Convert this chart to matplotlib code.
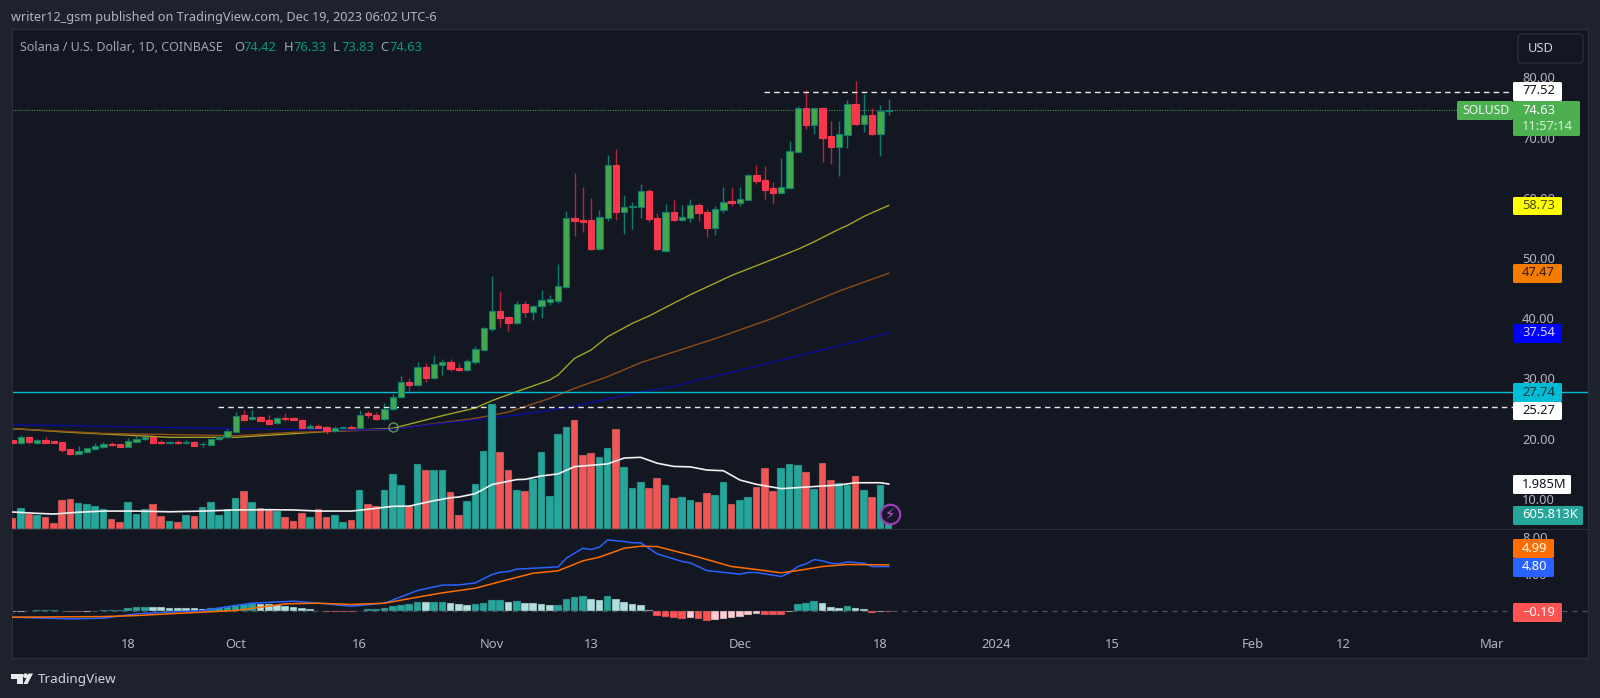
import numpy as np
import matplotlib
matplotlib.use("Agg")
import matplotlib.pyplot as plt
from matplotlib.patches import FancyBboxPatch, Polygon, Circle

plt.rcParams['font.family'] = ['Noto Sans', 'DejaVu Sans']

# days counted from Oct 1 2023, first bar is Sep 4
days = np.arange(-27, 80)

opens = [19.76,19.32,20.26,19.32,19.82,19.54,19.37,18.21,17.49,17.77,18.21,18.60,19.15,19.10,18.66,19.49,19.87,20.21,19.49,19.21,19.43,19.26,19.37,19.04,18.99,19.87,20.21,
         21.15,23.92,23.20,23.58,23.03,22.53,23.47,23.42,23.14,21.81,22.09,21.98,21.26,21.76,21.98,21.70,24.19,23.92,23.20,24.86,
         26.85,29.40,28.90,31.84,30.07,32.23,32.72,31.73,31.45,32.67,34.72,38.26,41.14,40.14,39.26,42.36,41.03,42.08,42.75,42.91,45.13,
         56.70,56.31,56.31,51.44,56.70,65.50,57.58,58.42,58.53,61.07,56.59,51.16,57.59,56.37,56.70,58.75,57.59,54.93,58.03,59.41,59.19,59.69,
         63.73,63.01,61.57,60.80,61.63,67.67,74.92,72.09,74.92,70.21,68.38,70.49,75.58,72.32,73.70,70.65,74.42]
highs = [19.87,20.54,20.43,19.93,20.21,19.60,19.40,18.32,18.77,18.49,19.26,19.49,19.43,19.13,20.04,20.43,20.59,20.43,19.82,19.54,19.71,19.71,19.54,19.43,19.93,20.48,21.70,
         24.47,24.75,24.75,23.75,23.86,23.64,24.19,23.58,23.25,22.42,22.37,22.03,22.14,22.14,22.20,24.75,24.58,24.36,25.85,27.35,
         30.40,30.07,32.67,32.50,33.89,33.28,33.28,32.50,33.22,35.38,38.48,47.01,44.57,40.20,42.80,42.80,42.12,44.68,43.85,49.00,57.81,
         64.06,61.85,59.91,58.03,67.11,68.10,60.46,59.36,62.29,61.41,57.42,58.92,59.64,58.80,59.80,59.08,58.09,58.64,61.85,61.74,61.85,63.90,
         65.50,65.23,62.63,66.67,69.44,75.30,77.91,74.90,75.03,72.81,72.76,76.25,79.40,77.24,74.92,75.42,76.33]
lows = [19.10,19.04,19.10,19.15,19.21,19.21,17.77,17.33,17.44,17.66,18.10,18.43,18.77,18.64,18.55,19.43,19.82,19.15,19.10,19.15,19.10,19.10,18.77,18.66,18.96,19.82,20.10,
        21.09,22.92,23.14,22.87,22.42,22.48,22.97,23.09,21.54,21.65,21.54,20.82,21.15,21.65,21.54,21.65,23.47,23.14,23.09,24.75,
        26.69,27.96,28.74,29.46,29.90,30.56,31.23,31.28,31.28,32.39,34.66,37.93,38.59,37.93,38.98,40.25,39.70,40.03,42.19,42.47,44.96,
        53.65,54.37,51.40,51.27,56.09,56.31,54.04,54.76,56.64,55.98,51.33,51.05,56.20,56.09,55.98,56.09,53.55,53.88,57.53,58.69,58.64,59.64,
        62.24,59.80,58.97,60.76,61.46,67.65,71.43,70.60,65.89,65.67,63.62,68.22,72.04,70.99,70.43,66.94,73.83]
closes = [19.32,20.21,19.43,19.82,19.32,19.26,18.05,17.44,17.88,18.38,18.77,19.04,18.99,18.66,19.60,19.99,20.26,19.21,19.21,19.43,19.21,19.43,18.82,19.15,19.87,20.21,21.26,
          23.75,23.14,23.58,22.92,22.48,23.42,23.20,23.14,21.81,22.14,21.70,21.20,21.81,21.98,21.76,23.86,23.86,23.20,24.86,26.96,
          29.35,28.85,31.84,30.07,32.39,32.72,31.51,31.45,32.83,34.83,38.37,41.14,40.03,39.26,42.36,41.03,42.08,42.97,43.13,45.29,56.70,
          56.09,56.03,51.44,56.81,65.50,57.58,58.42,58.64,61.07,56.42,51.44,57.59,56.37,56.87,58.75,57.42,54.93,58.14,59.30,59.19,59.75,63.73,
          62.79,61.35,60.80,61.79,67.72,74.86,72.09,74.86,69.99,68.38,70.60,75.58,72.32,73.70,70.60,74.42,74.63]

# volume in millions
volumes = [0.47,0.91,0.66,0.60,0.51,0.25,1.26,1.31,1.15,1.10,1.03,0.87,0.44,0.29,1.19,0.68,0.88,1.10,0.57,0.34,0.29,0.62,0.57,0.99,1.19,0.62,0.88,
           1.37,1.69,1.19,0.93,0.87,0.81,0.53,0.34,0.71,0.53,0.87,0.53,0.62,0.29,0.40,1.72,1.10,1.03,1.72,2.43,1.93,1.03,2.87,2.59,2.59,2.59,1.62,0.60,1.22,2.00,
           3.44,5.51,3.40,2.59,1.72,1.68,2.22,3.40,1.46,4.18,4.49,4.81,3.25,3.35,3.18,3.56,4.40,2.74,1.81,2.07,1.81,2.25,1.93,1.35,1.41,1.26,1.19,1.57,1.50,2.07,
           1.10,1.28,1.41,1.85,2.69,1.68,2.69,2.87,2.82,2.50,1.76,2.90,2.16,2.03,1.94,2.34,1.72,1.41,1.96,0.606]
vol_ma_days = [-27,-24,-22,-19,-16,-12,-8,-4,0,4,7,10,14,16,19,21,24,26,27,29,31,34,35,37,39,41,45,47,49,51,53,55,57,59,61,63,66,69,73,75,78,79]
vol_ma = [0.75,0.69,0.66,0.74,0.79,0.79,0.76,0.79,0.84,0.85,0.84,0.79,0.79,0.87,1.00,1.01,1.25,1.38,1.41,1.56,1.96,2.18,2.19,2.34,2.43,2.75,2.87,3.13,3.16,2.90,2.76,2.74,2.60,2.57,2.16,1.97,1.78,1.85,1.94,2.04,2.04,1.985]

# moving averages on price
ma_olive_days = [-27,-20,-8,0,12,19,25,29,31,34,38,39,41,43,45,48,50,51,55,60,65,68,70,73,74,76,77,79]
ma_olive = [21.65,21.04,20.21,20.21,21.26,21.70,23.80,25.08,26.30,27.80,29.73,30.56,33.33,34.72,36.93,39.15,40.36,41.08,43.90,47.10,49.80,51.44,52.71,54.80,55.40,56.90,57.53,58.73]
ma_brown_days = [-27,-16,0,7,12,19,25,29,33,38,41,45,49,51,58,65,73,79]
ma_brown = [21.65,20.87,20.48,21.04,21.20,21.54,22.64,23.36,24.41,26.68,28.35,30.29,32.61,33.50,36.60,40.00,44.50,47.47]
ma_navy_days = [-27,-16,0,14,19,25,29,33,37,41,45,49,53,56,60,65,70,75,79]
ma_navy = [22.31,22.03,21.65,21.42,21.54,22.53,23.09,23.75,24.47,25.41,26.57,27.74,28.62,29.73,31.00,32.70,34.40,36.10,37.54]

# macd panel
macd_days = [-27,-20,-16,-12,-8,-4,0,2,7,10,14,18,22,25,27,29,31,32,33,34,39,40,42,43,44,45,47,48,49,51,54,55,57,61,62,63,66,67,68,69,70,71,72,73,74,76,77,79]
macd = [-0.73,-0.91,-0.84,-0.36,-0.18,0.00,0.55,0.80,1.02,0.80,0.47,0.80,2.19,2.77,2.80,3.02,3.93,4.19,4.26,4.52,4.77,5.72,6.81,6.67,6.92,7.72,7.54,7.40,7.40,6.19,5.36,5.21,4.37,3.97,4.15,4.15,3.72,4.12,4.81,5.10,5.57,5.43,5.17,5.10,5.32,5.17,4.81,4.80]
signal_days = [-27,-16,-12,-8,-4,0,3,6,10,14,18,22,25,29,33,36,39,42,44,47,49,51,56,60,63,66,68,71,74,79]
signal = [-0.73,-0.66,-0.55,-0.36,-0.18,0.00,0.36,0.73,0.80,0.66,0.80,1.46,1.93,2.44,3.39,4.08,4.34,5.43,5.83,6.81,7.03,6.99,5.83,4.81,4.48,4.12,4.37,4.81,5.03,4.99]
hist = [-0.15,-0.12,-0.10,0.06,0.07,0.08,-0.10,-0.15,-0.17,-0.12,-0.08,0.03,0.06,0.08,0.29,0.40,0.41,0.38,0.37,0.29,0.28,0.27,0.26,0.15,0.29,0.30,0.40,
        0.62,0.72,0.80,0.74,0.66,0.64,0.47,0.36,0.25,0.15,-0.05,-0.18,-0.19,-0.20,-0.21,-0.08,0.13,0.14,0.29,0.47,0.65,0.73,0.91,0.90,0.92,0.93,0.87,0.69,0.63,0.66,
        0.84,1.13,1.14,0.91,1.02,0.87,0.77,0.69,0.58,0.60,1.24,1.53,1.64,1.24,1.13,1.64,1.24,0.91,0.69,0.55,0.11,-0.62,-0.76,-0.77,-0.95,-0.84,-0.95,-1.13,
        -1.06,-0.95,-0.87,-0.73,-0.51,-0.40,-0.44,-0.47,-0.48,-0.15,0.69,0.87,1.06,0.80,0.40,0.29,0.47,0.29,0.18,-0.26,-0.15,-0.19]

tick_days = [-13,0,15,31,43,61,78,92,106,123,134,152]
tick_labels = ["18","Oct","16","Nov","13","Dec","18","2024","15","Feb","12","Mar"]
price_ticks = [80,70,60,50,40,30,20,10]
macd_ticks = [8,4,0]

BG = "#131722"
OUTER = "#1e222d"
BORDER = "#2a2e39"
TEXT = "#b2b5be"
GREEN = "#43a84d"
GREEN_EDGE = "#0b7f6c"
RED = "#f7374c"
RED_WICK = "#b9263a"
TEAL = "#26a69a"
VRED = "#f25555"

W, H = 1600, 698
fig = plt.figure(figsize=(W/100, H/100), dpi=100, facecolor=OUTER)

def rect(left, top, right, bottom):
    return [left/W, 1-bottom/H, (right-left)/W, (bottom-top)/H]

xlim = (-27.06, 163.6)

# price panel
ax = fig.add_axes(rect(12, 29, 1588, 529), facecolor=BG)
ax.set_xlim(xlim)
ax.set_ylim(4.98, 88.04)

opens = np.array(opens); closes = np.array(closes)
up = closes >= opens
ax.vlines(days[up], np.array(lows)[up], np.array(highs)[up], color=GREEN_EDGE, lw=1.0, zorder=2)
ax.vlines(days[~up], np.array(lows)[~up], np.array(highs)[~up], color=RED_WICK, lw=1.0, zorder=2)
ax.bar(days[up], (closes-opens)[up], bottom=opens[up], width=0.76, color=GREEN, edgecolor=GREEN_EDGE, lw=0.8, zorder=3)
ax.bar(days[~up], (opens-closes)[~up], bottom=closes[~up], width=0.76, color=RED, edgecolor=RED, lw=0.8, zorder=3)

ax.plot(ma_olive_days, ma_olive, color="#a3a322", lw=1.0, zorder=2)
ax.plot(ma_brown_days, ma_brown, color="#8f4d16", lw=1.0, zorder=2)
ax.plot(ma_navy_days, ma_navy, color="#0c0c9c", lw=1.0, zorder=2)

ax.axhline(27.74, color="#00bcd4", lw=1.0, zorder=2)
ax.hlines(74.63, xlim[0], 155, color="#4caf50", lw=0.7, linestyles=(0, (1, 1.5)), zorder=1)
ax.hlines(77.52, 63.9, 155, color="#e8e8e8", lw=1.0, linestyles=(0, (4, 3)), zorder=2)
ax.hlines(25.27, -2.1, 155, color="#e8e8e8", lw=1.0, linestyles=(0, (4, 3)), zorder=2)
ax.plot([19], [21.93], marker="o", ms=6.5, mfc="none", mec="#4f9a58", mew=1.0, zorder=4)

ax.yaxis.tick_right()
ax.set_yticks(price_ticks)
ax.set_yticklabels([f"{p:.2f}" for p in price_ticks])
ax.tick_params(axis="y", length=0, pad=-47.5, labelsize=9.3, labelcolor=TEXT)
ax.set_xticks([])
for s in ax.spines.values():
    s.set_color(BORDER)

# volume on top of the price panel
vax = fig.add_axes(rect(12, 29, 1588, 529), sharex=ax)
vax.patch.set_visible(False)
vax.axis("off")
vax.set_xlim(xlim)
vax.set_ylim(0, 22.05)
vol_colors = [TEAL if u else VRED for u in up]
vax.bar(days, volumes, width=0.92, color=vol_colors, edgecolor="#14423f", lw=0.3)
vax.plot(vol_ma_days, vol_ma, color="#f0f0f0", lw=1.2)
vax.plot([79.1], [0.66], marker="o", ms=14, mfc="#1b1530", mec="#9c3fb5", mew=1.6)
vax.text(79.1, 0.66, "\u26a1", color="#b565cc", fontsize=10.5, ha="center", va="center", family="DejaVu Sans")

# macd panel
max_ = fig.add_axes(rect(12, 529, 1588, 658), facecolor=BG)
max_.set_xlim(xlim)
max_.set_ylim(-5.19, 8.91)
max_.axhline(0, color="#50535e", lw=0.9, ls=(0, (4, 4)), zorder=1)
hist = np.array(hist)
prev = np.r_[hist[0]-0.03, hist[:-1]]
hist_colors = []
for h, p in zip(hist, prev):
    if h >= 0:
        hist_colors.append(TEAL if h > p else "#b2dfdb")
    else:
        hist_colors.append("#ffcdd2" if h > p else "#ff5252")
max_.bar(days, hist, width=0.92, color=hist_colors, edgecolor="#2b3a44", lw=0.3, zorder=2)
max_.plot(macd_days, macd, color="#2962ff", lw=1.1, zorder=3)
max_.plot(signal_days, signal, color="#ff6d00", lw=1.1, zorder=3)

max_.yaxis.tick_right()
max_.set_yticks(macd_ticks)
max_.set_yticklabels([f"{m:.2f}" for m in macd_ticks])
max_.tick_params(axis="y", length=0, pad=-47.5, labelsize=9.3, labelcolor=TEXT)
max_.set_xticks(tick_days)
max_.set_xticklabels(tick_labels)
max_.tick_params(axis="x", length=0, pad=-14.5, labelsize=9.3, labelcolor=TEXT)
max_.get_xticklabels()[7].set_fontweight("bold")
for s in max_.spines.values():
    s.set_color(BORDER)

# overlay in pixel coords for the labels around the chart
ui = fig.add_axes([0, 0, 1, 1])
ui.patch.set_visible(False)
ui.axis("off")
ui.set_xlim(0, W)
ui.set_ylim(H, 0)

def badge(x0, x1, y0, y1, color, label, tcolor, tx=1522):
    ui.add_patch(FancyBboxPatch((x0+1, y0+1), x1-x0-2, y1-y0-2, boxstyle="round,pad=1,rounding_size=1.5",
                                fc=color, ec="none"))
    ui.text(tx, (y0+y1)/2-0.5, label, color=tcolor, fontsize=9.3, va="center", ha="left")

badge(1513, 1562, 82, 101, "#ffffff", "77.52", "#131722")
ui.add_patch(FancyBboxPatch((1458, 102), 54, 17, boxstyle="round,pad=1,rounding_size=1.5", fc="#4caf50", ec="none"))
ui.text(1462, 110.5, "SOLUSD", color="#f5f5f5", fontsize=8.8, va="center", ha="left")
ui.add_patch(FancyBboxPatch((1514, 102), 65, 33, boxstyle="round,pad=1,rounding_size=1.5", fc="#4caf50", ec="none"))
ui.text(1522, 110.5, "74.63", color="#ffffff", fontsize=9.3, va="center", ha="left")
ui.text(1522, 126.5, "11:57:14", color="#d7efd8", fontsize=9.3, va="center", ha="left")
badge(1513, 1562, 197, 215, "#ffff00", "58.73", "#4b4b1c")
badge(1513, 1562, 264, 283, "#f57c00", "47.47", "#2a1a08")
badge(1513, 1562, 324, 343, "#0000ff", "37.54", "#d6d6ff")
badge(1513, 1562, 383, 402, "#00bcd4", "27.74", "#10333a")
badge(1513, 1562, 402, 420, "#ffffff", "25.27", "#131722")
badge(1513, 1571, 475, 494, "#ffffff", "1.985M", "#131722")
badge(1513, 1583, 506, 525, "#26a69a", "605.813K", "#ffffff")
badge(1513, 1554, 539, 558, "#ff6d00", "4.99", "#ffffff")
badge(1513, 1554, 558, 577, "#2962ff", "4.80", "#ffffff")
badge(1513, 1562, 603, 622, "#ff5252", "\u22120.19", "#ffffff")

# currency button
ui.add_patch(FancyBboxPatch((1520, 36), 61, 25, boxstyle="round,pad=2,rounding_size=4", fc=BG, ec=BORDER, lw=1.0))
ui.text(1528, 48, "USD", color="#d1d4dc", fontsize=9.3, va="center", ha="left")

# header texts
ui.text(11, 17.5, "writer12_gsm published on TradingView.com, Dec 19, 2023 06:02 UTC-6",
        color=TEXT, fontsize=9.1, va="center", ha="left", fontweight="medium")
ui.text(20, 47.5, "Solana / U.S. Dollar, 1D, COINBASE", color="#a3a6af", fontsize=9.0, va="center", ha="left")
for lx, vx, l, v in [(234, 243, "O", "74.42"), (284, 293, "H", "76.33"), (333, 341, "L", "73.83"), (380, 389, "C", "74.63")]:
    ui.text(lx, 47.5, l, color="#a3a6af", fontsize=9.3, va="center", ha="left")
    ui.text(vx, 47.5, v, color="#089981", fontsize=9.3, va="center", ha="left")

# logo
ui.add_patch(Polygon([(11, 673.5), (22.5, 673.5), (22.5, 684), (16.5, 684), (16.5, 679), (11, 679)], fc="#e8e9ed", ec="none"))
ui.add_patch(Circle((25.5, 675.7), 2.4, fc="#e8e9ed", ec="none"))
ui.add_patch(Polygon([(33, 673.5), (28.5, 673.5), (23.5, 684), (27.5, 684)], fc="#e8e9ed", ec="none"))
ui.text(38, 679, "TradingView", color="#d1d4dc", fontsize=9.7, va="center", ha="left")

fig.savefig("out.png", dpi=100, facecolor=OUTER)
